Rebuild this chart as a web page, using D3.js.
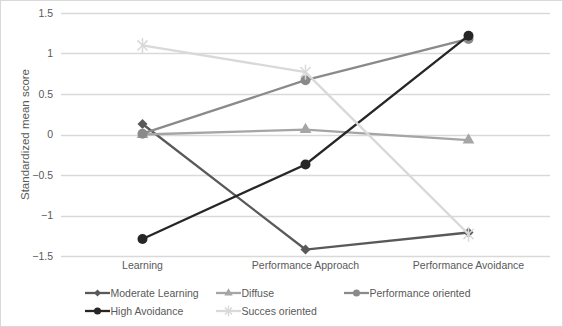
<!DOCTYPE html>
<html>
<head>
<meta charset="utf-8">
<script src="https://cdn.jsdelivr.net/npm/d3@7"></script>
<style>
body { margin: 0; background: #fff; }
text { font-family: "Liberation Sans", Arial, sans-serif; fill: #595959; }
</style>
</head>
<body>
<div id="chart-area"></div>
<script>
var categories = ['Learning', 'Performance Approach', 'Performance Avoidance'];
var seriesNames = ['Moderate Learning', 'Diffuse', 'Performance oriented', 'High Avoidance', 'Succes oriented'];
var moderateLearning = [0.13, -1.42, -1.21];
var diffuse = [0.0, 0.06, -0.07];
var performanceOriented = [0.01, 0.67, 1.18];
var highAvoidance = [-1.29, -0.37, 1.22];
var succesOriented = [1.1, 0.77, -1.23];
var yTicks = [-1.5, -1, -0.5, 0, 0.5, 1, 1.5];

var svgWidth = 563, svgHeight = 327;
var margin = {left: 61, right: 13, top: 13, bottom: 71};
var width = svgWidth - margin.left - margin.right;
var height = svgHeight - margin.top - margin.bottom;

var series = [
  {name: seriesNames[0], values: moderateLearning, color: '#595959', marker: 'diamond'},
  {name: seriesNames[1], values: diffuse, color: '#a5a5a5', marker: 'triangle'},
  {name: seriesNames[2], values: performanceOriented, color: '#8a8a8a', marker: 'circle'},
  {name: seriesNames[3], values: highAvoidance, color: '#262626', marker: 'circle'},
  {name: seriesNames[4], values: succesOriented, color: '#d9d9d9', marker: 'star'}
];

var svg = d3.select('#chart-area')
  .append('svg')
  .attr('width', svgWidth)
  .attr('height', svgHeight);

svg.append('rect')
  .attr('x', 0.5).attr('y', 0.5)
  .attr('width', svgWidth - 1).attr('height', svgHeight - 1)
  .attr('fill', '#fff')
  .attr('stroke', '#d9d9d9');

var g = svg.append('g').attr('transform', 'translate(' + margin.left + ',' + margin.top + ')');

var xScale = d3.scaleBand().domain(categories).range([0, width]);
var yScale = d3.scaleLinear().domain([-1.5, 1.5]).range([height, 0]);

// gridlines
g.selectAll('.grid').data(yTicks).enter()
  .append('line')
  .attr('x1', 0).attr('x2', width)
  .attr('y1', d => Math.round(yScale(d)) + 0.5)
  .attr('y2', d => Math.round(yScale(d)) + 0.5)
  .attr('stroke', '#d9d9d9')
  .attr('stroke-width', 1.3);

// y axis
var yAxis = d3.axisLeft(yScale).tickValues(yTicks).tickSize(0).tickPadding(8)
  .tickFormat(d => d3.format('')(d));
var ya = g.append('g').call(yAxis);
ya.select('.domain').remove();
ya.selectAll('text').attr('font-size', '10.5px').attr('fill', '#595959')
  .style('font-family', '"Liberation Sans", Arial, sans-serif');

// x axis
var xAxis = d3.axisBottom(xScale).tickSize(0).tickPadding(6);
var xa = g.append('g').attr('transform', 'translate(0,' + height + ')').call(xAxis);
xa.select('.domain').remove();
xa.selectAll('text').attr('font-size', '10.5px').attr('fill', '#595959')
  .style('font-family', '"Liberation Sans", Arial, sans-serif');

// y label
svg.append('text')
  .attr('transform', 'translate(29,' + (margin.top + height / 2) + ') rotate(-90)')
  .attr('text-anchor', 'middle')
  .attr('font-size', '11.5px')
  .text('Standardized mean score');

var cx = d => xScale(d) + xScale.bandwidth() / 2;

var line = d3.line()
  .x((d, i) => cx(categories[i]))
  .y(d => yScale(d));

function drawMarker(sel, type, color, x, y, scale) {
  scale = scale || 1;
  if (type === 'diamond') {
    // rotated square
    sel.append('path').attr('d', d3.symbol(d3.symbolSquare, 50 * scale)())
      .attr('transform', 'translate(' + x + ',' + y + ') rotate(45)')
      .attr('fill', color);
  } else if (type === 'triangle') {
    sel.append('path').attr('d', d3.symbol(d3.symbolTriangle, 60 * scale)())
      .attr('transform', 'translate(' + x + ',' + y + ')')
      .attr('fill', color);
  } else if (type === 'circle') {
    sel.append('circle').attr('cx', x).attr('cy', y).attr('r', 5 * Math.sqrt(scale))
      .attr('fill', color);
  } else if (type === 'star') {
    var r = 7.5 * Math.sqrt(scale);
    [90, 45, 135].forEach(a => {
      var rad = a * Math.PI / 180;
      var rr = a === 90 ? r : r * 0.95;
      sel.append('line')
        .attr('x1', x - rr * Math.cos(rad)).attr('y1', y - rr * Math.sin(rad))
        .attr('x2', x + rr * Math.cos(rad)).attr('y2', y + rr * Math.sin(rad))
        .attr('stroke', color).attr('stroke-width', 1.5);
    });
  }
}

series.forEach(s => {
  var sg = g.append('g');
  sg.append('path')
    .datum(s.values)
    .attr('d', line)
    .attr('fill', 'none')
    .attr('stroke', s.color)
    .attr('stroke-width', 2.3);
  s.values.forEach((v, i) => {
    drawMarker(sg, s.marker, s.color, cx(categories[i]), yScale(v));
  });
});

// legend
var legendPos = [
  {x: 85, y: 293}, {x: 216, y: 293}, {x: 344, y: 293},
  {x: 85, y: 311}, {x: 216, y: 311}
];
series.forEach((s, i) => {
  var p = legendPos[i];
  var lg = svg.append('g');
  lg.append('line').attr('x1', p.x).attr('x2', p.x + 25)
    .attr('y1', p.y).attr('y2', p.y)
    .attr('stroke', s.color).attr('stroke-width', 2.3);
  drawMarker(lg, s.marker, s.color, p.x + 12.5, p.y, 0.5);
  lg.append('text').attr('x', p.x + 25.5).attr('y', p.y + 4)
    .attr('font-size', '10.5px').text(s.name);
});
</script>
</body>
</html>
